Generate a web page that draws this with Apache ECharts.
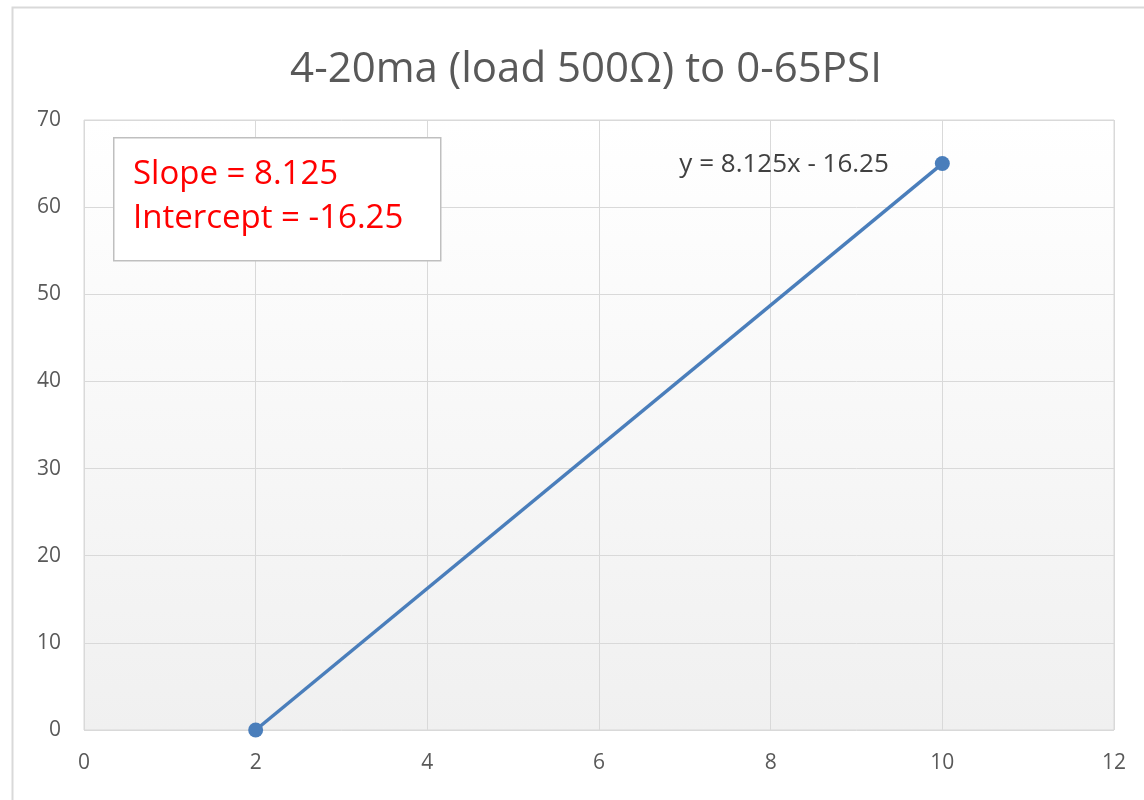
<!DOCTYPE html>
<html>
<head>
<meta charset="utf-8">
<script src="https://cdn.jsdelivr.net/npm/echarts@6/dist/echarts.min.js"></script>
<style>
html,body{margin:0;padding:0;background:#fff;}
#chart{width:1144px;height:800px;}
</style>
</head>
<body>
<div id="chart"></div>
<script>
const titleText = '4-20ma (load 500Ω) to 0-65PSI';
const xValues = [2, 10];
const yValues = [0, 65];
const equationText = 'y = 8.125x - 16.25';
const boxLines = ['Slope = 8.125', 'Intercept = -16.25'];
const xTicks = [0, 2, 4, 6, 8, 10, 12];
const yTicks = [0, 10, 20, 30, 40, 50, 60, 70];

const FONT = '"Open Sans", "Noto Sans", sans-serif';
const chart = echarts.init(document.getElementById('chart'));
const points = xValues.map((x, i) => [x, yValues[i]]);

chart.setOption({
  animation: false,
  backgroundColor: '#ffffff',
  grid: {left: 84, top: 120, right: 30, bottom: 70, show: true,
    borderColor: '#d9d9d9', borderWidth: 1,
    backgroundColor: new echarts.graphic.LinearGradient(0, 0, 0, 1, [
      {offset: 0, color: '#ffffff'}, {offset: 1, color: '#f0f0f0'}])
  },
  xAxis: {
    type: 'value', min: xTicks[0], max: xTicks[xTicks.length - 1], interval: 2,
    axisLine: {show: false}, axisTick: {show: false},
    axisLabel: {fontFamily: FONT, fontSize: 21, color: '#595959', margin: 23},
    splitLine: {show: true, lineStyle: {color: '#d9d9d9', width: 1}}
  },
  yAxis: {
    type: 'value', min: yTicks[0], max: yTicks[yTicks.length - 1], interval: 10,
    axisLine: {show: false}, axisTick: {show: false},
    axisLabel: {fontFamily: FONT, fontSize: 21, color: '#595959', margin: 23},
    splitLine: {show: true, lineStyle: {color: '#d9d9d9', width: 1}}
  },
  series: [{
    type: 'line',
    data: points.map((p, i) => i === points.length - 1 ? {
      value: p,
      label: {show: true, position: 'left', distance: 46, formatter: equationText,
        fontFamily: FONT, fontSize: 26, color: '#404040', offset: [0, 1]}
    } : p),
    symbol: 'circle', symbolSize: 15,
    lineStyle: {color: '#4a7ebb', width: 3.5},
    itemStyle: {color: '#4a7ebb'},
    z: 3
  }],
  graphic: [
    {type: 'rect', left: 10, top: 5, shape: {width: 1200, height: 900},
      style: {fill: 'none', stroke: '#d9d9d9', lineWidth: 2}, z: -10, silent: true},
    {type: 'text', x: 586, y: 70, z: 60,
      style: {text: titleText, fill: '#595959', fontFamily: FONT, fontSize: 42,
        align: 'center', verticalAlign: 'middle'}},
    {type: 'rect', left: 113, top: 137, shape: {width: 327, height: 123},
      style: {fill: '#ffffff', stroke: '#bfbfbf', lineWidth: 1.5}, z: 50},
    {type: 'text', left: 133, top: 153, z: 51,
      style: {text: boxLines.join('\n'), fill: '#ff0000', fontFamily: FONT,
        fontSize: 33, lineHeight: 44}}
  ]
});
</script>
</body>
</html>
